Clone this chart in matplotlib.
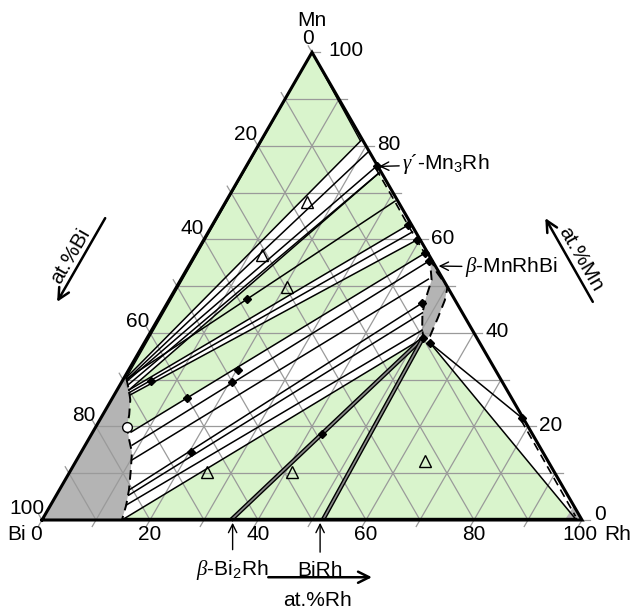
import numpy as np
import matplotlib.pyplot as plt
from matplotlib.patches import Polygon

plt.rcParams['font.family'] = ['Liberation Sans', 'DejaVu Sans']
plt.rcParams['mathtext.fontset'] = 'custom'
plt.rcParams['mathtext.rm'] = 'Liberation Sans'
plt.rcParams['mathtext.it'] = 'Liberation Serif:italic'

GREEN = '#d9f4cc'
GREY = '#b4b4b4'
FS = 15
PT = 0.72  # points per pixel at dpi 100

# compositions are (at.% Rh, at.% Mn); Bi is the rest

# liquid (L) boundary, top to bottom
liq_rh = [0.4, 2.2, 3.5, 4.9, 5.8, 7.6, 9.4, 11.1, 12.9, 14.0, 14.8]
liq_mn = [30.4, 27.8, 25.7, 22.5, 19.9, 17.1, 14.5, 10.7, 6.4, 3.2, 0.0]

# beta-MnRhBi single phase lens
lens_rh = [43.7, 46.6, 50.2, 51.1, 51.7, 52.2, 51.5, 50.1, 48.3, 47.3, 46.5]
lens_mn = [56.2, 53.0, 49.8, 47.0, 43.2, 39.3, 38.5, 40.6, 44.3, 47.7, 51.3]

# gamma'-Mn3Rh boundary (dashed) and Rh solid solution boundary (dashed)
gam_rh = [24.2, 31.0, 36.5, 43.7]
gam_mn = [75.2, 68.4, 62.8, 55.7]
rhss_rh = [78.0, 98.4]
rhss_mn = [21.4, 0.8]

# three-phase triangles (green)
tri_rh = [[0.0, 18.6, 0.4],
          [25.3, 36.3, 2.2],
          [39.5, 42.4, 7.1, 5.8, 4.9, 3.5, 2.9],
          [14.8, 35.0, 51.1],
          [35.0, 52.0, 51.1],
          [51.1, 53.0, 98.6, 52.0]]
tri_mn = [[100.0, 81.4, 30.4],
          [74.2, 63.1, 27.8],
          [59.9, 57.1, 18.8, 19.9, 22.5, 25.7, 26.7],
          [0.0, 0.0, 38.9],
          [0.0, 0.0, 38.9],
          [38.9, 37.8, 0.3, 0.3]]

# tie lines: start and end compositions
tie_rh0 = [18.6, 21.0, 24.2, 25.3, 25.3, 36.3, 31.3, 37.8, 39.5, 42.4, 44.0,
           45.8, 47.2, 48.3, 50.1, 51.1, 53.0, 53.0]
tie_mn0 = [81.4, 78.6, 75.8, 74.2, 74.2, 63.1, 68.2, 61.6, 59.9, 57.1, 55.4,
           51.5, 46.4, 44.3, 40.6, 38.9, 37.8, 37.8]
tie_rh1 = [0.4, 0.7, 0.9, 1.5, 2.2, 2.2, 0.6, 2.5, 2.9, 7.1, 8.7,
           10.2, 12.9, 13.4, 14.0, 14.8, 78.0, 98.6]
tie_mn1 = [30.4, 30.0, 29.7, 28.9, 27.8, 27.8, 30.2, 27.2, 26.7, 18.8, 16.0,
           12.8, 6.4, 5.3, 3.2, 0.0, 21.8, 0.3]

# double lines to the binary compounds
dbl_rh0 = [51.1, 51.1]
dbl_mn0 = [38.9, 38.9]
dbl_rh1 = [35.0, 52.0]
dbl_mn1 = [0.0, 0.0]

# experimental points
dot_rh = [24.2, 36.3, 39.5, 42.4, 44.0, 47.2, 51.1, 53.0, 78.0,
          5.3, 13.8, 20.3, 20.4, 14.3, 20.3, 42.7]
dot_mn = [75.8, 63.1, 59.9, 57.1, 55.4, 46.4, 38.9, 37.8, 21.8,
          29.7, 26.1, 32.1, 29.5, 47.3, 14.5, 18.4]
circ_rh = [5.8]
circ_mn = [19.9]
open_rh = [15.1, 12.4, 20.5, 25.4, 41.2, 64.6]
open_mn = [68.0, 56.7, 49.8, 10.3, 10.3, 12.6]

ticks = [0, 20, 40, 60, 80, 100]


def tern(rh, mn):
    rh = np.asarray(rh, float)
    mn = np.asarray(mn, float)
    return rh + mn / 2, mn * np.sqrt(3) / 2


def poly(rh, mn, **kw):
    x, y = tern(rh, mn)
    return Polygon(np.column_stack([x, y]), closed=True, **kw)


fig = plt.figure(figsize=(6.33, 6.14), dpi=100)
ax = fig.add_axes([0, 0, 1, 1])
ax.set_xlim(-42 / 5.4, (633 - 42) / 5.4)
ax.set_ylim(-(614 - 520) / 5.4, 520 / 5.4)
ax.axis('off')

# fills
for r, m in zip(tri_rh, tri_mn):
    ax.add_patch(poly(r, m, facecolor=GREEN, edgecolor='none', zorder=1))
ax.add_patch(poly([0.0] + liq_rh + [0.0], [liq_mn[0]] + liq_mn + [0.0],
                  facecolor=GREY, edgecolor='none', zorder=1))
ax.add_patch(poly(lens_rh, lens_mn, facecolor=GREY, edgecolor='none', zorder=1))
ax.add_patch(poly([96.8, 100.0, 97.0], [0.0, 0.0, 3.0],
                  facecolor=GREY, edgecolor='none', zorder=1))

# grid
for v in range(10, 100, 10):
    for a, b in [((v, 0), (v, 100 - v)), ((0, v), (100 - v, v)),
                 ((100 - v, 0), (0, 100 - v))]:
        x, y = tern([a[0], b[0]], [a[1], b[1]])
        ax.plot(x, y, color='#9a9a9a', lw=0.9, zorder=2)
# small ticks outside the edges
for v in range(0, 101, 10):
    x, y = tern(v, 0)
    ax.plot([x, x - 0.7], [y, y - 1.2], color='#9a9a9a', lw=0.9)
    x, y = tern(100 - v, v)
    ax.plot([x, x + 1.5], [y, y], color='#9a9a9a', lw=0.9)
    x, y = tern(0, 100 - v)
    ax.plot([x, x - 0.7], [y, y + 1.2], color='#9a9a9a', lw=0.9)

# tie lines
for r0, m0, r1, m1 in zip(tie_rh0, tie_mn0, tie_rh1, tie_mn1):
    x, y = tern([r0, r1], [m0, m1])
    ax.plot(x, y, color='black', lw=1.1, zorder=3)
for r0, m0, r1, m1 in zip(dbl_rh0, dbl_mn0, dbl_rh1, dbl_mn1):
    x, y = tern([r0, r1], [m0, m1])
    ax.plot(x, y, color='black', lw=3.2, zorder=3, solid_capstyle='butt')
    ax.plot(x, y, color='#888888', lw=1.2, zorder=3, solid_capstyle='butt')
# inner lines along the edges
x, y = tern([0.0, 0.4], [100.0, 30.4])
ax.plot(x, y, color='black', lw=1.0, zorder=3)
x, y = tern([0.0, 18.3], [100.0, 81.2])
ax.plot(x, y, color='black', lw=1.0, zorder=3)
x, y = tern([14.8, 98.6], [0.4, 0.4])
ax.plot(x, y, color='black', lw=1.0, zorder=3)

# phase boundaries (dashed)
x, y = tern(liq_rh, liq_mn)
ax.plot(x, y, color='black', lw=1.4, ls=(0, (5, 3)), zorder=4)
x, y = tern(lens_rh + lens_rh[:1], lens_mn + lens_mn[:1])
ax.plot(x, y, color='black', lw=1.4, ls=(0, (5, 3)), zorder=4)
x, y = tern(gam_rh, gam_mn)
ax.plot(x, y, color='black', lw=1.2, ls=(0, (5, 3)), zorder=4)
x, y = tern(rhss_rh, rhss_mn)
ax.plot(x, y, color='black', lw=1.2, ls=(0, (5, 3)), zorder=4)

# triangle outline
x, y = tern([0, 100, 0, 0], [0, 0, 100, 0])
ax.plot(x, y, color='black', lw=2.2, zorder=5, solid_joinstyle='miter')

# symbols
x, y = tern(dot_rh, dot_mn)
ax.plot(x, y, 'D', color='black', ms=4, zorder=6)
x, y = tern(circ_rh, circ_mn)
ax.plot(x, y, 'o', mfc='white', mec='black', ms=7, mew=1, zorder=6)
x, y = tern(open_rh, open_mn)
ax.plot(x, y, '^', mfc='none', mec='black', ms=8, mew=1, zorder=6)

# tick labels
for v in ticks:
    x, y = tern(v, 0)
    dx = {0: -6, 100: -2}.get(v, 0)
    ax.annotate(str(v), (x, y), xytext=(dx * PT, -14 * PT),
                textcoords='offset points', ha='center', va='center',
                fontsize=FS)
    x, y = tern(100 - v, v)
    if v == 100:
        off = (16 * PT, 2 * PT)
    elif v == 0:
        off = (12 * PT, 5 * PT)
    else:
        off = (11 * PT, 1 * PT)
    ax.annotate(str(v), (x, y), xytext=off, textcoords='offset points',
                ha='left', va='center', fontsize=FS)
    x, y = tern(0, 100 - v)
    off = {0: (-4, -14), 100: (-15, -12)}.get(v, (-12, -11))
    ax.annotate(str(v), (x, y), xytext=(off[0] * PT, -off[1] * PT),
                textcoords='offset points', ha='center', va='center',
                fontsize=FS)

# corner labels
x, y = tern(0, 100)
ax.annotate('Mn', (x, y), xytext=(0, 32 * PT), textcoords='offset points',
            ha='center', va='center', fontsize=FS)
x, y = tern(0, 0)
ax.annotate('Bi', (x, y), xytext=(-25 * PT, -14 * PT), textcoords='offset points',
            ha='center', va='center', fontsize=FS)
x, y = tern(100, 0)
ax.annotate('Rh', (x, y), xytext=(36 * PT, -14 * PT), textcoords='offset points',
            ha='center', va='center', fontsize=FS)

# phase labels
arr = dict(arrowstyle='->', lw=1.0, color='black', shrinkA=0, shrinkB=0)
x, y = tern(24.6, 75.6)
ax.annotate(r"$\gamma$´-Mn$_3$Rh", (x, y), xytext=(23 * PT, 2 * PT),
            textcoords='offset points', ha='left', va='center', fontsize=FS,
            arrowprops=arr)
x, y = tern(46.3, 54.3)
ax.annotate(r"$\beta$-MnRhBi", (x, y), xytext=(26 * PT, -1 * PT),
            textcoords='offset points', ha='left', va='center', fontsize=FS,
            arrowprops=arr)
x, y = tern(35.3, 0)
ax.annotate(r"$\beta$-Bi$_2$Rh", (x, y), xytext=(0, -50 * PT),
            textcoords='offset points', ha='center', va='center', fontsize=FS,
            arrowprops=dict(arr, shrinkA=4, shrinkB=2))
x, y = tern(51.5, 0)
ax.annotate("BiRh", (x, y), xytext=(0, -50 * PT),
            textcoords='offset points', ha='center', va='center', fontsize=FS,
            arrowprops=dict(arr, shrinkA=4, shrinkB=2))

# composition arrows
hd = dict(arrowstyle='->', lw=1.8, color='black', mutation_scale=20,
          shrinkA=0, shrinkB=0)
ax.annotate('', xy=(61.1, -10.6), xytext=(41.9, -10.6), arrowprops=hd)
ax.text(51.1, -15.0, 'at.%Rh', ha='center', va='center', fontsize=FS)
ax.annotate('', xy=(2.8, 40.4), xytext=(11.7, 55.9), arrowprops=hd)
ax.text(5.3, 48.9, 'at.%Bi', ha='center', va='center', fontsize=FS, rotation=60)
ax.annotate('', xy=(93.2, 55.9), xytext=(102.0, 40.4), arrowprops=hd)
ax.text(99.8, 48.4, 'at.%Mn', ha='center', va='center', fontsize=FS, rotation=-60)

fig.savefig('out.png', dpi=100)
